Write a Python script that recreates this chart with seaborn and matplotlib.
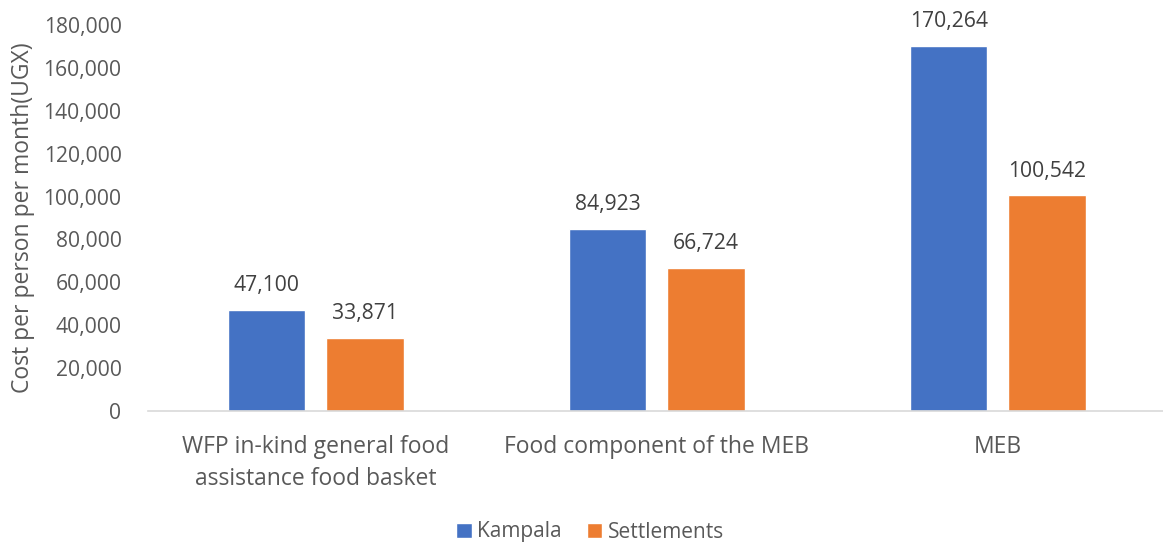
import matplotlib
matplotlib.use("Agg")
import matplotlib.pyplot as plt
import seaborn as sns
import pandas as pd
from matplotlib.ticker import FuncFormatter

categories = ["WFP in-kind general food\nassistance food basket",
              "Food component of the MEB", "MEB"]
series_names = ["Kampala", "Settlements"]
kampala = [47100, 84923, 170264]
settlements = [33871, 66724, 100542]
yticks = [0, 20000, 40000, 60000, 80000, 100000, 120000, 140000, 160000, 180000]

colors = ["#4472C4", "#ED7D31"]
txt = "#595959"

df = pd.DataFrame({
    "category": categories * 2,
    "series": [series_names[0]] * 3 + [series_names[1]] * 3,
    "value": kampala + settlements,
})

sns.set_theme(style="white")
plt.rcParams["font.family"] = ["Open Sans", "DejaVu Sans"]

fig = plt.figure(figsize=(11.63, 5.43), dpi=100)
ax = fig.add_axes([148 / 1163, 132 / 543, 1023 / 1163, 386 / 543])

sns.barplot(data=df, x="category", y="value", hue="series", order=categories,
            hue_order=series_names, palette=colors, width=0.575, gap=0.21,
            saturation=1, ax=ax, legend=True)

ax.set_ylim(0, 180000)
ax.set_xlim(-0.492, 2.508)
ax.set_yticks(yticks)
ax.yaxis.set_major_formatter(FuncFormatter(lambda v, p: f"{int(v):,}"))
ax.tick_params(axis="y", labelsize=15.2, labelcolor=txt, length=0, pad=19)
ax.tick_params(axis="x", labelsize=16.5, labelcolor=txt, length=0, pad=17)
for lab in ax.get_xticklabels():
    lab.set_linespacing(1.45)
ax.set_xlabel("")
ax.set_ylabel("Cost per person per month(UGX)", fontsize=16.5, color=txt, labelpad=6)

for s in ["top", "right", "left"]:
    ax.spines[s].set_visible(False)
ax.spines["bottom"].set_color("#D9D9D9")
ax.spines["bottom"].set_linewidth(1.2)

for cont in ax.containers:
    ax.bar_label(cont, labels=[f"{int(v):,}" for v in cont.datavalues],
                 padding=10, fontsize=15.2, color="#404040")

leg = ax.legend(loc="center", bbox_to_anchor=(590 / 1163, 11 / 543),
                bbox_transform=fig.transFigure, ncol=2, frameon=False,
                fontsize=15, handlelength=0.75, handleheight=0.75,
                handletextpad=0.25, columnspacing=1.2)
for t in leg.get_texts():
    t.set_color(txt)

fig.savefig("out.png", dpi=100)
